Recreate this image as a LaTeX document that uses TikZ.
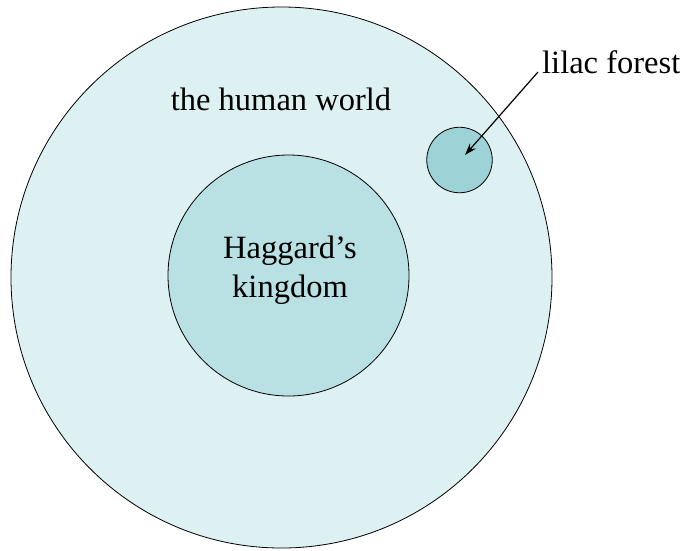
\documentclass[tikz,border=0pt]{standalone}
\usepackage{fontspec}
\setmainfont{Liberation Serif}
\usetikzlibrary{arrows.meta}

\definecolor{worldfill}{RGB}{221,240,242}
\definecolor{kingdomfill}{RGB}{185,224,227}
\definecolor{forestfill}{RGB}{157,211,214}

\tikzset{
  realm/.style={circle, draw=black, line width=0.8pt, inner sep=0pt},
  caption/.style={inner sep=0pt, font=\fontsize{32.5}{39}\selectfont}
}

\begin{document}
\begin{tikzpicture}[x=1pt, y=-1pt]
    \useasboundingbox (0,0) rectangle (684,550);

    % Circles
    \node[realm, fill=worldfill, minimum size=541pt] (world) at (281.5,277.5) {};
    \node[realm, fill=kingdomfill, minimum size=241pt] (kingdom) at (288.5,275.5) {};
    \node[realm, fill=forestfill, minimum size=65.5pt] (forest) at (459.5,160) {};

    % Labels
    \node[caption, anchor=base] (worldlabel) at (281,110) {the human world};
    \node[caption, anchor=base, align=center] (kingdomlabel) at (290,297) {Haggard’s\\kingdom};
    \node[caption, anchor=base west] (forestlabel) at (542,73) {lilac forest};

    % Pointer
    \coordinate (foresttip) at (465,155);
    \draw[line width=1.2pt, -{Stealth[length=12pt, width=8pt]}]
        ([xshift=-4pt, yshift=1pt]forestlabel.base west) -- (foresttip);
\end{tikzpicture}
\end{document}
